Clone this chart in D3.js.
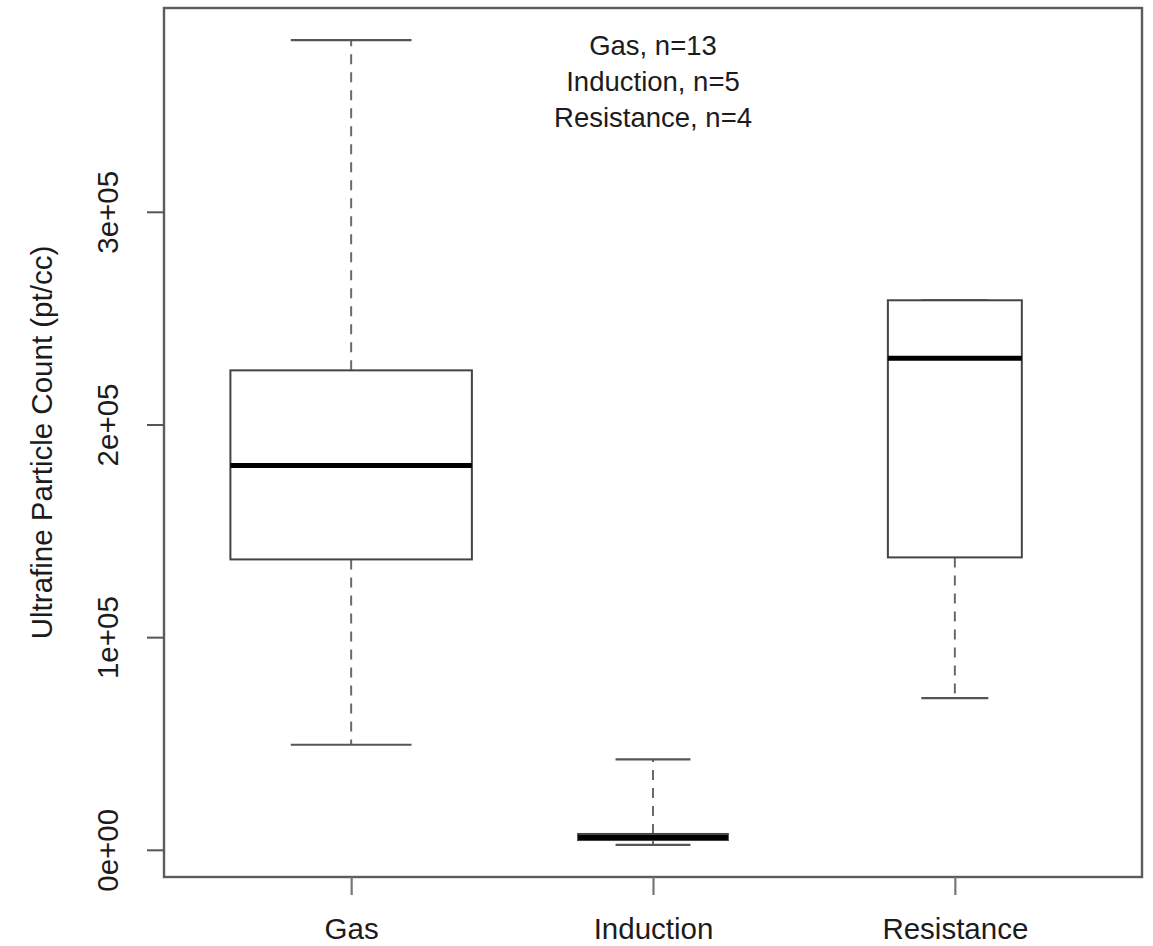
<!DOCTYPE html>
<html>
<head>
<meta charset="utf-8">
<script src="https://cdn.jsdelivr.net/npm/d3@7"></script>
<style>
  html, body { margin: 0; padding: 0; background: #fff; }
  svg text { font-family: "Liberation Sans", Arial, Helvetica, sans-serif; fill: #1c1c1c; }
</style>
</head>
<body>
<svg id="chart" width="1153" height="946"></svg>
<script>
// Boxplot summary per cooktop type
const categories = ["Gas", "Induction", "Resistance"];
const counts = [13, 5, 4];
const whiskerLow = [49400, 2350, 71300];
const lowerHinge = [136550, 4600, 137500];
const medians = [180760, 5800, 231100];
const upperHinge = [225450, 7450, 258400];
const whiskerHigh = [380700, 42500, 258400];
const yTicks = [0, 100000, 200000, 300000];
const yTickLabels = ["0e+00", "1e+05", "2e+05", "3e+05"];
const yTitle = "Ultrafine Particle Count (pt/cc)";
const noteLines = categories.map((c, i) => `${c}, n=${counts[i]}`);

const svg = d3.select("#chart");
const plot = { left: 164, right: 1142, top: 8, bottom: 877 };

const boxes = categories.map((c, i) => ({
  cat: c, pos: i + 1, n: counts[i],
  lo: whiskerLow[i], q1: lowerHinge[i], med: medians[i], q3: upperHinge[i], hi: whiskerHigh[i]
}));

// Axis ranges padded by 4% like base graphics
const yMin = d3.min(whiskerLow), yMax = d3.max(whiskerHigh);
const yPad = (yMax - yMin) * 0.04;
const y = d3.scaleLinear().domain([yMin - yPad, yMax + yPad]).range([plot.bottom, plot.top]);
const xPad = (categories.length) * 0.04;
const x = d3.scaleLinear().domain([0.5 - xPad, categories.length + 0.5 + xPad]).range([plot.left, plot.right]);

// Variable box widths proportional to sqrt(n)
const maxSqrt = d3.max(counts, n => Math.sqrt(n));
const halfW = n => (x(1 + 0.4 * Math.sqrt(n) / maxSqrt) - x(1));

const g = svg.append("g");

boxes.forEach(b => {
  const cx = x(b.pos), hw = halfW(b.n), cap = hw / 2;
  // dashed whiskers
  g.append("line").attr("x1", cx).attr("x2", cx).attr("y1", y(b.q3)).attr("y2", y(b.hi))
    .attr("stroke", "#6a6a6a").attr("stroke-width", 2).attr("stroke-dasharray", "10,8");
  g.append("line").attr("x1", cx).attr("x2", cx).attr("y1", y(b.q1)).attr("y2", y(b.lo))
    .attr("stroke", "#6a6a6a").attr("stroke-width", 2).attr("stroke-dasharray", "10,8");
  // staples
  [b.lo, b.hi].forEach(v => {
    g.append("line").attr("x1", cx - cap).attr("x2", cx + cap).attr("y1", y(v)).attr("y2", y(v))
      .attr("stroke", "#555").attr("stroke-width", 2.2);
  });
  // box
  g.append("rect").attr("x", cx - hw).attr("width", 2 * hw)
    .attr("y", y(b.q3)).attr("height", y(b.q1) - y(b.q3))
    .attr("fill", "#fff").attr("stroke", "#444").attr("stroke-width", 2);
  // median
  g.append("line").attr("x1", cx - hw).attr("x2", cx + hw).attr("y1", y(b.med)).attr("y2", y(b.med))
    .attr("stroke", "#000").attr("stroke-width", 5);
});

// frame
svg.append("rect").attr("x", plot.left).attr("y", plot.top)
  .attr("width", plot.right - plot.left).attr("height", plot.bottom - plot.top)
  .attr("fill", "none").attr("stroke", "#5c5c5c").attr("stroke-width", 2.4);

// y axis
const yAxis = svg.append("g").attr("transform", `translate(${plot.left},0)`)
  .call(d3.axisLeft(y).tickValues(yTicks).tickSize(17).tickFormat((d, i) => yTickLabels[i]));
yAxis.select(".domain").remove();
yAxis.selectAll(".tick line").attr("stroke", "#555").attr("stroke-width", 2);
yAxis.selectAll(".tick text")
  .attr("x", null).attr("dy", null)
  .attr("transform", "translate(-46,0) rotate(-90)")
  .attr("text-anchor", "middle")
  .style("font-size", "29.5px");

// x axis
const xAxis = svg.append("g").attr("transform", `translate(0,${plot.bottom})`)
  .call(d3.axisBottom(x).tickValues(boxes.map(b => b.pos)).tickSize(18)
    .tickFormat((d, i) => categories[i]));
xAxis.select(".domain").remove();
xAxis.selectAll(".tick line").attr("stroke", "#777").attr("stroke-width", 2.2);
xAxis.selectAll(".tick text").attr("y", 62).attr("dy", null)
  .style("font-size", "29.5px");

// y title
svg.append("text")
  .attr("transform", `translate(52,${(plot.top + plot.bottom) / 2}) rotate(-90)`)
  .attr("text-anchor", "middle")
  .style("font-size", "29.5px")
  .text(yTitle);

// sample size note
noteLines.forEach((t, i) => {
  svg.append("text").attr("x", x(2)).attr("y", 55 + i * 36)
    .attr("text-anchor", "middle").style("font-size", "27.5px").text(t);
});
</script>
</body>
</html>
